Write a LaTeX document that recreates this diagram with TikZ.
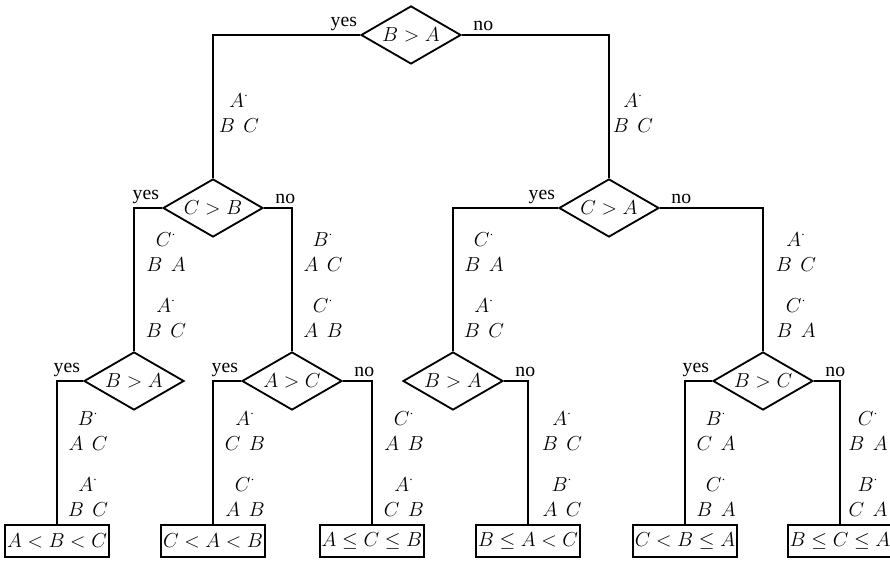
\documentclass[tikz,border=0pt]{standalone}
\usepackage{fontspec}
\setmainfont{Liberation Serif}
\usetikzlibrary{shapes.geometric,positioning}

% small heap: top key with dot, two keys below
\newcommand{\heap}[3]{$#1^{\cdot}$\\[1pt]$#2$\hspace{6pt}$#3$}

\begin{document}
\begin{tikzpicture}[x=0.025cm, y=-0.025cm,
  test/.style={diamond, aspect=2, draw, line width=1.3pt, minimum width=2.5cm,
    minimum height=1.45cm, inner sep=0pt},
  leaf/.style={rectangle, draw, line width=1.3pt, minimum height=0.82cm,
    inner xsep=1.5pt},
  edge/.style={line width=0.8pt},
  yeslbl/.style={anchor=south east, inner sep=1pt, xshift=-1pt, yshift=2pt},
  nolbl/.style={anchor=south west, inner sep=1pt, xshift=7pt, yshift=2pt},
  heap/.style={align=center, inner sep=0pt},
  every node/.style={font=\fontsize{14}{17}\selectfont}
]
  \useasboundingbox (0,0) rectangle (890,569);

  % Root
  \node[test] (ba) at (411,35) {$B>A$};

  % Second level
  \node[test] (cb) at (213,208) {$C>B$};
  \node[test] (ca) at (609,208) {$C>A$};

  % Third level
  \node[test] (baL) at (134,381) {$B>A$};
  \node[test] (ac) at (292,381) {$A>C$};
  \node[test] (baR) at (453,381) {$B>A$};
  \node[test] (bc) at (763,381) {$B>C$};

  % Outcomes
  \node[leaf] (o1) at (57,541) {$A<B<C$};
  \node[leaf] (o2) at (213,541) {$C<A<B$};
  \node[leaf] (o3) at (372,541) {$A\le C\le B$};
  \node[leaf] (o4) at (528,541) {$B\le A<C$};
  \node[leaf] (o5) at (685,541) {$C<B\le A$};
  \node[leaf] (o6) at (840,541) {$B\le C\le A$};

  % Branches
  \draw[edge] (ba.west) -| (cb.north);
  \draw[edge] (ba.east) -| (ca.north);
  \draw[edge] (cb.west) -| (baL.north);
  \draw[edge] (cb.east) -| (ac.north);
  \draw[edge] (ca.west) -| (baR.north);
  \draw[edge] (ca.east) -| (bc.north);
  \draw[edge] (baL.west) -| (o1.north);
  \draw[edge] (ac.west) -| (o2.north);
  \draw[edge] (ac.east) -| (o3.north);
  \draw[edge] (baR.east) -| (o4.north);
  \draw[edge] (bc.west) -| (o5.north);
  \draw[edge] (bc.east) -| (o6.north);

  % yes / no
  \node[yeslbl] (y1) at (ba.west) {yes};
  \node[nolbl] (n1) at (ba.east) {no};
  \node[yeslbl] (y2) at (cb.west) {yes};
  \node[nolbl] (n2) at (cb.east) {no};
  \node[yeslbl] (y3) at (ca.west) {yes};
  \node[nolbl] (n3) at (ca.east) {no};
  \node[yeslbl] (y4) at (baL.west) {yes};
  \node[yeslbl] (y5) at (ac.west) {yes};
  \node[nolbl] (n5) at (ac.east) {no};
  \node[nolbl] (n6) at (baR.east) {no};
  \node[yeslbl] (y7) at (bc.west) {yes};
  \node[nolbl] (n7) at (bc.east) {no};

  % Heaps along the branches
  \node[heap] (h1) at (239,113) {\heap{A}{B}{C}};
  \node[heap] (h2) at (633,113) {\heap{A}{B}{C}};

  \node[heap] (h3) at (166,252) {\heap{C}{B}{A}};
  \node[heap] (h4) at (166,318) {\heap{A}{B}{C}};
  \node[heap] (h5) at (323,252) {\heap{B}{A}{C}};
  \node[heap] (h6) at (323,318) {\heap{C}{A}{B}};
  \node[heap] (h7) at (484,252) {\heap{C}{B}{A}};
  \node[heap] (h8) at (484,318) {\heap{A}{B}{C}};
  \node[heap] (h9) at (796,252) {\heap{A}{B}{C}};
  \node[heap] (h10) at (796,318) {\heap{C}{B}{A}};

  \node[heap] (h11) at (88,431) {\heap{B}{A}{C}};
  \node[heap] (h12) at (88,497) {\heap{A}{B}{C}};
  \node[heap] (h13) at (245,431) {\heap{A}{C}{B}};
  \node[heap] (h14) at (245,497) {\heap{C}{A}{B}};
  \node[heap] (h15) at (404,431) {\heap{C}{A}{B}};
  \node[heap] (h16) at (404,497) {\heap{A}{C}{B}};
  \node[heap] (h17) at (562,431) {\heap{A}{B}{C}};
  \node[heap] (h18) at (562,497) {\heap{B}{A}{C}};
  \node[heap] (h19) at (716,431) {\heap{B}{C}{A}};
  \node[heap] (h20) at (716,497) {\heap{C}{B}{A}};
  \node[heap] (h21) at (868,431) {\heap{C}{B}{A}};
  \node[heap] (h22) at (868,497) {\heap{B}{C}{A}};
\end{tikzpicture}
\end{document}
